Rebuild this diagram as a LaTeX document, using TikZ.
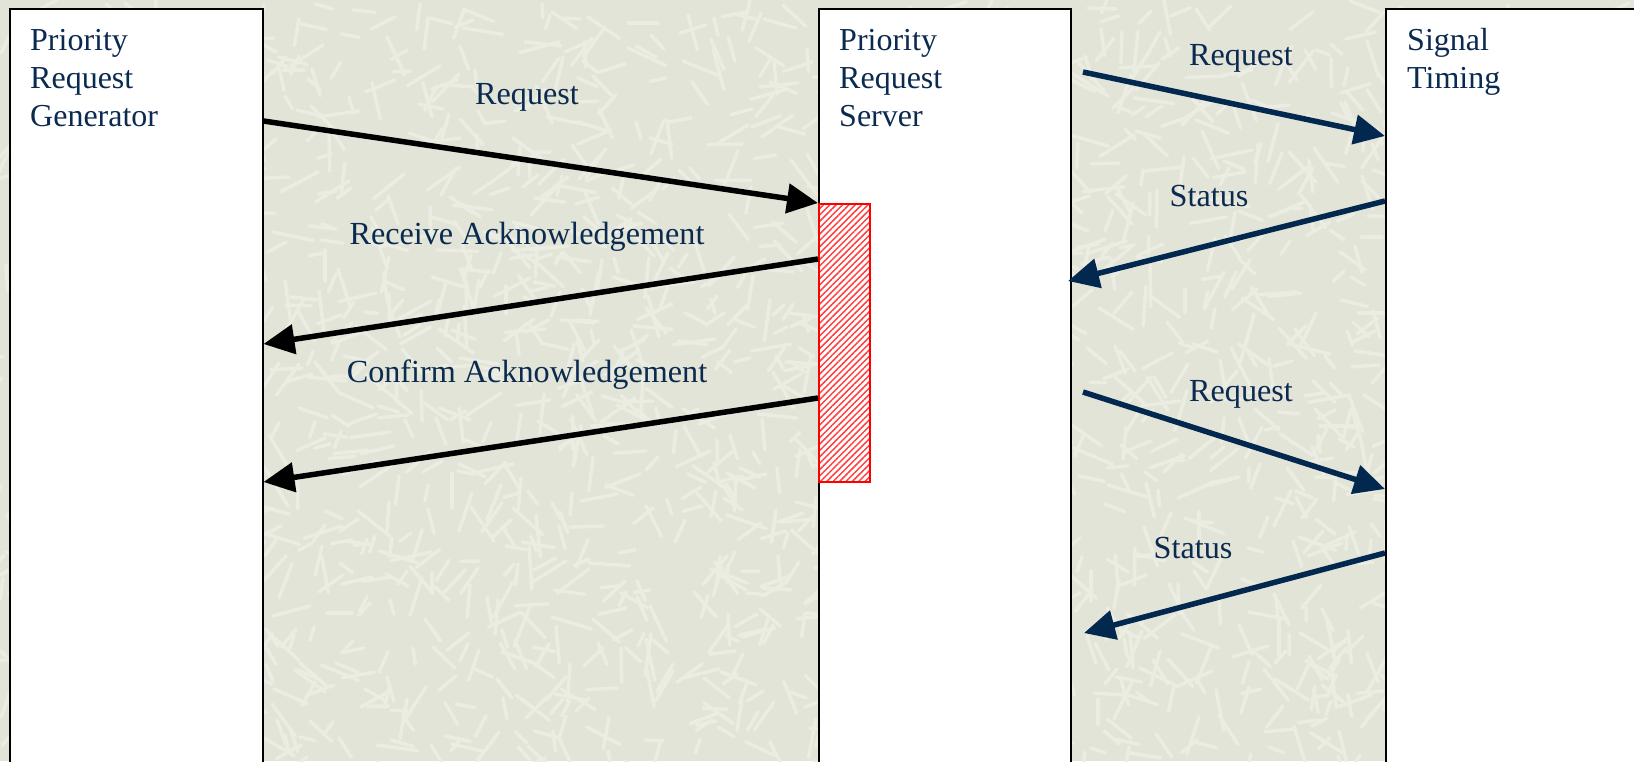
\documentclass[tikz,border=0pt]{standalone}
\usepackage{fontspec}
\setmainfont{Liberation Serif}
\usetikzlibrary{arrows.meta,patterns.meta}
\definecolor{bgbeige}{HTML}{E3E4D8}
\definecolor{bgstroke}{HTML}{ECEDE2}
\definecolor{txtnavy}{HTML}{0B2A4F}
\definecolor{arrnavy}{HTML}{02284F}
\tikzset{
  lifebox/.style={draw=black, line width=1.5pt, fill=white, anchor=north west, inner sep=0pt},
  boxtitle/.style={text=txtnavy, font=\fontsize{32}{38}\selectfont, align=left, anchor=base west, inner sep=0pt},
  msglabel/.style={text=txtnavy, font=\fontsize{32.2}{38}\selectfont, anchor=base, inner sep=0pt},
  blackmsg/.style={draw=black, line width=5.5pt, -{Triangle[length=31pt,width=29pt]}},
  navymsg/.style={draw=arrnavy, line width=5.5pt, -{Triangle[length=31pt,width=29pt]}},
  activation/.style={draw=red, line width=1.5pt, pattern={Lines[angle=45,distance=4.5pt,line width=1.5pt]}, pattern color=red!75!white, anchor=north west, inner sep=0pt},
  texture/.style={draw=bgstroke, line width=3.5pt, line cap=round}
}
\begin{document}
\begin{tikzpicture}[x=1pt,y=-1pt]
\useasboundingbox (0,0) rectangle (1634,761);
\fill[bgbeige] (0,0) rectangle (1634,761);
\clip (0,0) rectangle (1634,761);
% background texture
\pgfmathsetseed{4711}
\foreach \i in {1,...,2200}{
  \pgfmathsetmacro{\px}{random(0,1634)}
  \pgfmathsetmacro{\py}{random(0,761)}
  \pgfmathsetmacro{\pa}{random(0,179)}
  \pgfmathsetmacro{\pl}{random(14,42)}
  \draw[texture] (\px,\py) -- ++(\pa:\pl);
}
% lifeline boxes
\node[lifebox, minimum width=253pt, minimum height=780pt] (gen) at (9,8) {};
\node[lifebox, minimum width=252pt, minimum height=780pt] (srv) at (818,8) {};
\node[lifebox, minimum width=300pt, minimum height=780pt] (sig) at (1385,8) {};
% activation bar
\node[activation, minimum width=51pt, minimum height=278pt] (act) at (818,203) {};
% titles
\node[boxtitle] (gentitle) at (30,126) {Priority\\Request\\Generator};
\node[boxtitle] (srvtitle) at (839,126) {Priority\\Request\\Server};
\node[boxtitle] (sigtitle) at (1407,88) {Signal\\Timing};
% left messages
\draw[blackmsg] (gen.east |- 0,121) -- (act.north west);
\draw[blackmsg] (act.west |- 0,259) -- (gen.east |- 0,344);
\draw[blackmsg] (act.west |- 0,398) -- (gen.east |- 0,482);
\node[msglabel] (l1) at (527,104) {Request};
\node[msglabel] (l2) at (527,244) {Receive Acknowledgement};
\node[msglabel] (l3) at (527,382) {Confirm Acknowledgement};
% right messages
\coordinate (r1s) at (1083,72);
\coordinate (s1e) at (1068,281);
\coordinate (r2s) at (1083,392);
\coordinate (s2e) at (1084,633);
\draw[navymsg] (r1s) -- (sig.west |- 0,136);
\draw[navymsg] (sig.west |- 0,201) -- (s1e);
\draw[navymsg] (r2s) -- (sig.west |- 0,489);
\draw[navymsg] (sig.west |- 0,553) -- (s2e);
\node[msglabel] (m1) at (1241,65) {Request};
\node[msglabel] (m2) at (1209,206) {Status};
\node[msglabel] (m3) at (1241,401) {Request};
\node[msglabel] (m4) at (1193,558) {Status};
\end{tikzpicture}
\end{document}
